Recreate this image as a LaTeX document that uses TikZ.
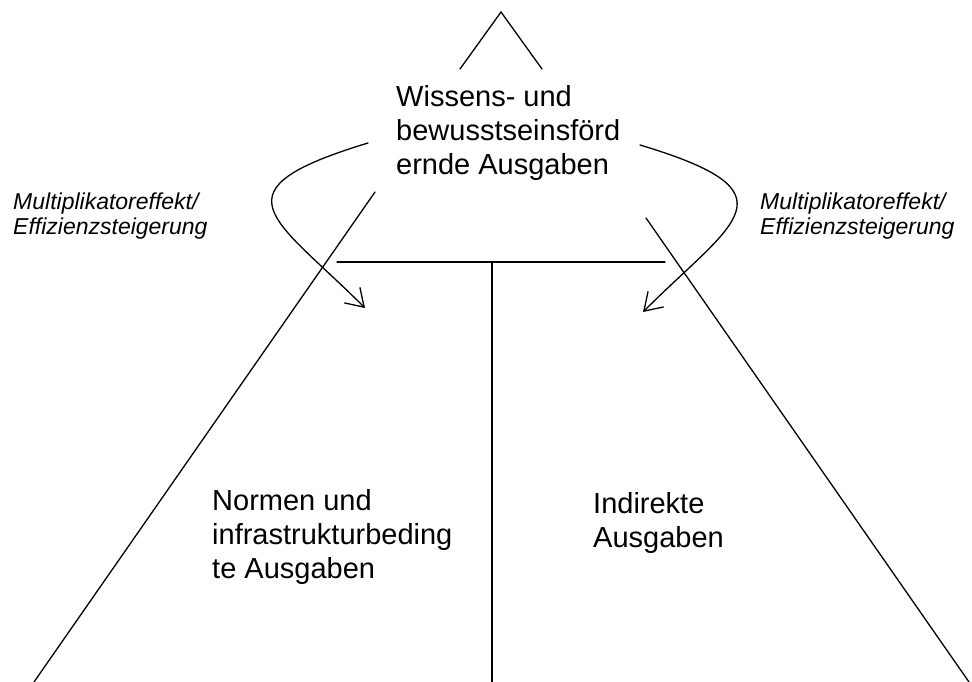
\documentclass[tikz,border=0pt]{standalone}
\usepackage{fontspec}
\setmainfont{Liberation Sans}
\usetikzlibrary{arrows.meta}
\tikzset{
  ln/.style={line width=1.3pt, line cap=round},
  arr/.style={ln, -{Straight Barb[length=17pt,width=22pt,line width=1.3pt]}},
  big/.style={font=\fontsize{29}{34}\selectfont, align=left, anchor=base west, inner sep=0pt},
  lab/.style={font=\fontsize{23}{25}\selectfont\itshape, align=left, anchor=base west, inner sep=0pt}
}
\begin{document}
\begin{tikzpicture}[x=1pt,y=-1pt]
\useasboundingbox (0,0) rectangle (972,682);
% coordinates
\coordinate (apex) at (501,12);
\coordinate (al) at (460,69);
\coordinate (ar) at (542,69);
\coordinate (ls) at (375,192);
\coordinate (le) at (34,682);
\coordinate (rs) at (646,218);
\coordinate (re) at (969,682);
\coordinate (hl) at (337,262);
\coordinate (hr) at (665,262);
\coordinate (hm) at (492,262);
\coordinate (vb) at (492,682);
\coordinate (c1s) at (368,143);
\coordinate (c1e) at (365,308);
\coordinate (c2s) at (640,145);
\coordinate (c2e) at (643,312);
% lines
\draw[ln] (al) -- (apex) -- (ar);
\draw[ln] (ls) -- (le);
\draw[ln] (rs) -- (re);
\draw[ln] (hl) -- (hr);
\draw[ln] (hm) -- (vb);
% curved arrows
\draw[arr] (c1s) .. controls (210,191) and (274,217) .. (c1e);
\draw[arr] (c2s) .. controls (800,193) and (734,221) .. (c2e);
% texts (anchor = baseline of last line)
\node[big] (top) at (396,175) {Wissens- und\\bewusstseinsförd\\ernde Ausgaben};
\node[big] (norm) at (212,578) {Normen und\\infrastrukturbeding\\te Ausgaben};
\node[big] (ind) at (593,547) {Indirekte\\Ausgaben};
\node[lab] (ml) at (13,234) {Multiplikatoreffekt/\\Effizienzsteigerung};
\node[lab] (mr) at (760,234) {Multiplikatoreffekt/\\Effizienzsteigerung};
\end{tikzpicture}
\end{document}
